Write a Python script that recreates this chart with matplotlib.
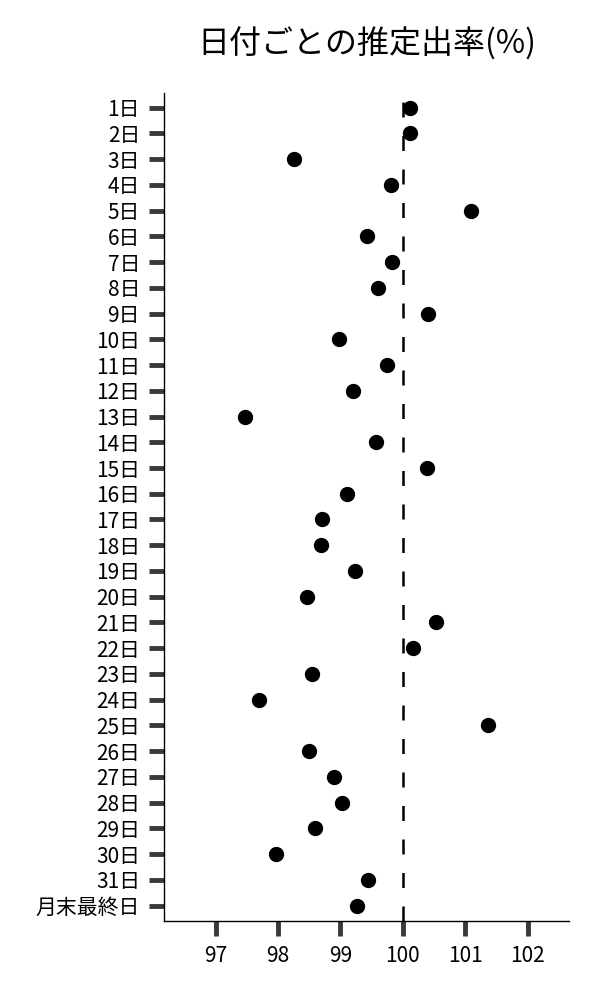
"""
Estimated rate per day of month, dot plot
"""

import matplotlib
matplotlib.use("Agg")
import matplotlib.pyplot as plt

plt.rcParams['font.family'] = ['Noto Sans CJK JP', 'DejaVu Sans']

# data
days = [f"{i}日" for i in range(1, 32)] + ["月末最終日"]
rates = [100.12, 100.12, 98.25, 99.81, 101.09, 99.43, 99.83, 99.60, 100.41, 98.98,
         99.74, 99.21, 97.47, 99.57, 100.38, 99.10, 98.70, 98.69, 99.23, 98.46,
         100.53, 100.16, 98.55, 97.70, 101.37, 98.49, 98.90, 99.02, 98.60, 97.97,
         99.45, 99.26]
ref_value = 100
xticks = [97, 98, 99, 100, 101, 102]

fig = plt.figure(figsize=(6, 10), dpi=100)
ax = fig.add_axes([0.274, 0.079, 0.674, 0.828])

ypos = list(range(len(days)))
ax.scatter(rates, ypos, s=100, color="black", zorder=3)
# dashed reference line (drawn bottom -> top)
ax.axvline(ref_value, color="black", lw=1.8, ls=(0, (6, 7.4)), zorder=2)

# formatting
ax.set_yticks(ypos)
ax.set_yticklabels(days)
ax.set_xticks(xticks)
ax.set_xlim(96.18, 102.66)
ax.set_ylim(len(days) - 0.4, -0.57)
ax.tick_params(axis="both", length=10.5, width=3.5, color="#3a3a3a", labelsize=15, pad=7)

for side in ["top", "right"]:
    ax.spines[side].set_visible(False)
for side in ["left", "bottom"]:
    ax.spines[side].set_linewidth(1.0)

ax.set_title("日付ごとの推定出率(%)", fontsize=23, pad=28)

plt.savefig("out.png", dpi=100)
